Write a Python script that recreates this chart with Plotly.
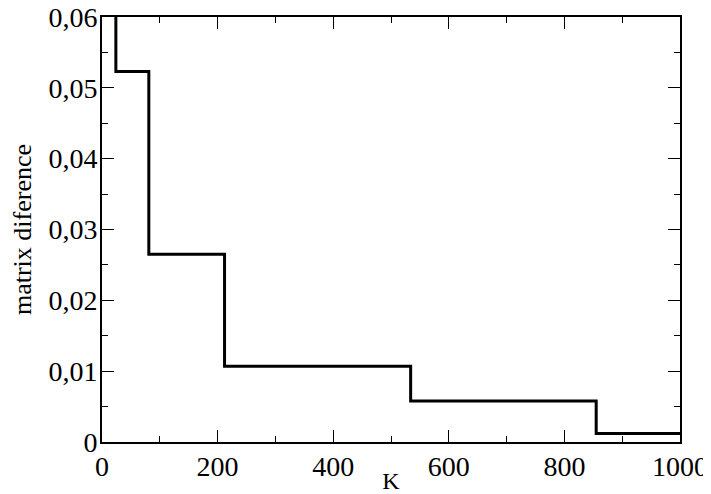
import plotly.graph_objects as go

# step data
k_values = [1, 24, 81, 212, 534, 855, 1000]
matrix_diff = [0.08, 0.0523, 0.0265, 0.0107, 0.0058, 0.0012, 0.0012]

fig = go.Figure()
fig.add_trace(go.Scatter(x=k_values, y=matrix_diff, mode="lines",
                         line=dict(color="black", width=3, shape="hv"),
                         showlegend=False))

axis_common = dict(
    showgrid=False, zeroline=False, showline=True, linecolor="black", linewidth=2,
    mirror="ticks", ticks="inside", ticklen=12, tickwidth=1, tickcolor="black",
    tickfont=dict(family="Liberation Serif", size=28, color="black"),
    automargin=False, ticklabeloverflow="allow",
)

fig.update_xaxes(range=[0, 1000], dtick=200, ticklabelstandoff=-2,
                 minor=dict(dtick=100, ticks="inside", ticklen=6, tickcolor="black"),
                 title=dict(text="K", font=dict(family="Liberation Serif", size=24, color="black"),
                            standoff=0),
                 **axis_common)
fig.update_yaxes(range=[0, 0.06], dtick=0.01, ticklabelstandoff=-3,
                 minor=dict(dtick=0.005, ticks="inside", ticklen=6, tickcolor="black"),
                 title=dict(text="matrix diference", font=dict(family="Liberation Serif", size=26, color="black"),
                            standoff=23),
                 **axis_common)

# page body has an 8px margin, so the figure is sized to the remaining window
fig.update_layout(width=703, height=486, separators=",.",
                  margin=dict(l=94, r=31, t=9, b=52),
                  plot_bgcolor="white", paper_bgcolor="white")

fig.write_html("out.html")
